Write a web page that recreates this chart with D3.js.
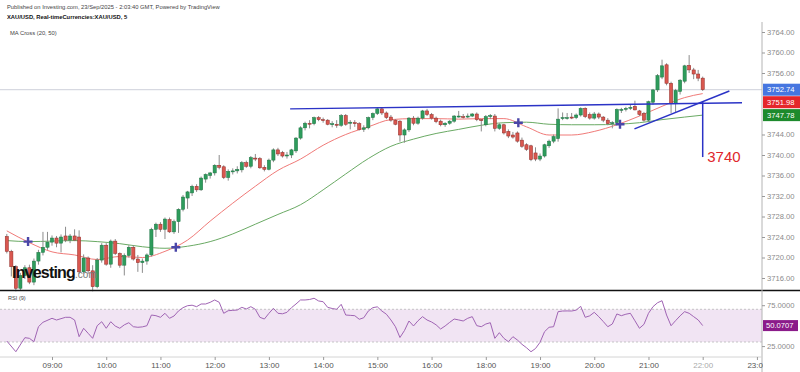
<!DOCTYPE html>
<html>
<head>
<meta charset="utf-8">
<script src="https://cdn.jsdelivr.net/npm/d3@7"></script>
<style>
body { margin: 0; background: #fff; }
svg { display: block; font-family: Arial, "Liberation Sans", sans-serif; }
</style>
</head>
<body>
<svg id="chart" width="800" height="372"></svg>
<script>
// XAU/USD 5 min candles, 08:10 -> 22:00 (17:00-18:00 break skipped), index = candle number
var opens = [3724.1,3721.2,3718.2,3714.0,3716.5,3718.0,3715.2,3719.3,3721.0,3722.0,3723.0,3723.8,3722.8,3724.2,3723.4,3724.2,3724.0,3717.2,3719.9,3717.4,
  3714.3,3719.5,3722.4,3718.7,3723.2,3720.8,3718.5,3720.4,3722.0,3719.7,3719.0,3719.3,3720.5,3725.5,3726.5,3725.5,3727.4,3725.0,3727.0,3729.4,
  3731.6,3732.6,3733.9,3733.2,3735.3,3736.0,3736.5,3738.0,3737.7,3735.6,3736.8,3736.9,3737.1,3738.5,3737.8,3739.4,3739.3,3737.6,3737.2,3739.0,
  3741.0,3740.5,3739.9,3740.0,3740.8,3743.3,3745.3,3746.2,3746.1,3747.3,3746.9,3746.8,3746.0,3746.0,3745.8,3747.7,3746.2,3746.3,3746.1,3745.0,
  3745.3,3747.3,3748.1,3749.0,3748.2,3747.4,3746.8,3746.6,3743.9,3744.9,3747.2,3746.2,3747.2,3748.6,3747.9,3747.2,3746.6,3745.9,3746.2,3746.6,
  3747.6,3747.5,3747.5,3747.6,3748.0,3746.9,3745.9,3747.5,3747.6,3745.2,3745.9,3744.6,3743.9,3744.3,3742.9,3742.0,3741.8,3740.4,3739.2,3739.8,
  3741.8,3742.7,3743.2,3747.2,3747.3,3747.4,3747.3,3747.8,3749.1,3747.9,3747.2,3748.0,3747.4,3746.8,3746.2,3746.3,3748.7,3748.9,3749.1,3749.5,
  3748.6,3748.1,3746.8,3750.3,3752.7,3755.2,3757.6,3754.0,3750.0,3752.4,3754.4,3757.5,3756.6,3755.8,3755.0];
var highs = [3724.6,3721.5,3718.5,3717.0,3718.5,3718.6,3719.8,3721.5,3725.0,3725.0,3724.3,3724.2,3724.5,3726.0,3724.6,3725.5,3725.3,3720.6,3720.2,3718.5,
  3719.9,3722.8,3722.8,3723.5,3723.6,3721.0,3720.8,3722.4,3722.4,3720.5,3719.8,3720.8,3725.8,3726.8,3726.9,3727.8,3727.8,3727.4,3729.6,3732.2,
  3733.0,3734.2,3734.3,3735.8,3736.4,3736.7,3738.2,3740.0,3738.0,3737.2,3737.4,3737.8,3738.8,3738.9,3739.8,3740.2,3739.6,3738.0,3739.3,3741.3,
  3741.4,3740.8,3740.6,3741.2,3743.5,3745.6,3746.5,3746.8,3747.5,3747.6,3747.3,3747.0,3746.6,3746.8,3748.0,3748.0,3746.8,3746.8,3746.4,3745.8,
  3747.5,3748.3,3749.3,3749.3,3748.5,3747.8,3747.0,3746.8,3745.2,3747.4,3747.6,3747.5,3748.8,3749.0,3748.2,3747.5,3746.9,3746.4,3746.8,3747.8,
  3748.6,3748.0,3748.1,3748.2,3748.3,3747.0,3747.8,3748.0,3748.0,3746.2,3746.1,3745.0,3744.5,3744.6,3743.4,3742.3,3742.0,3741.5,3740.3,3742.2,
  3743.0,3744.0,3749.1,3748.3,3748.2,3748.2,3748.1,3749.3,3749.3,3748.3,3748.4,3748.3,3747.6,3747.2,3746.6,3749.1,3749.2,3749.4,3749.8,3750.6,
  3748.8,3748.4,3750.6,3752.9,3755.8,3758.6,3757.9,3754.3,3752.9,3754.8,3757.6,3759.5,3757.0,3756.6,3755.3];
var lows = [3720.8,3716.3,3713.4,3713.6,3715.8,3714.8,3714.6,3718.6,3720.4,3721.5,3722.3,3722.0,3721.0,3723.0,3722.8,3723.2,3716.8,3716.9,3716.8,3713.4,
  3714.0,3719.0,3718.4,3718.0,3720.5,3718.0,3716.5,3720.0,3719.4,3717.2,3717.0,3718.6,3720.2,3724.0,3725.0,3723.6,3724.8,3724.6,3724.8,3729.0,
  3729.5,3732.0,3732.8,3733.0,3734.6,3735.4,3736.0,3737.2,3735.3,3735.0,3736.2,3736.4,3736.6,3737.5,3737.4,3738.8,3737.3,3736.8,3737.0,3738.6,
  3739.8,3739.5,3739.3,3739.4,3740.4,3743.0,3744.8,3745.2,3745.8,3746.6,3746.3,3745.8,3745.4,3745.3,3745.5,3745.7,3745.0,3745.5,3744.8,3744.5,
  3745.0,3746.8,3747.8,3747.8,3747.0,3746.5,3745.8,3742.6,3742.4,3744.5,3745.8,3745.9,3746.9,3747.6,3746.9,3746.2,3745.6,3745.5,3745.9,3746.3,
  3747.3,3747.1,3747.2,3747.4,3746.6,3744.6,3745.6,3747.0,3744.6,3744.9,3744.0,3743.3,3743.2,3742.4,3741.4,3740.8,3738.8,3738.8,3738.8,3739.5,
  3741.4,3742.3,3742.6,3746.8,3746.9,3747.0,3747.0,3747.5,3747.2,3746.9,3746.9,3747.0,3746.4,3745.8,3745.2,3746.0,3748.2,3748.5,3748.8,3748.7,
  3747.6,3746.5,3746.4,3749.8,3752.3,3754.8,3753.6,3748.2,3748.4,3751.8,3754.0,3756.0,3754.8,3754.4,3752.5];
var closes = [3721.2,3718.2,3714.0,3716.5,3718.0,3715.2,3719.3,3721.0,3722.0,3723.0,3723.8,3722.8,3724.0,3723.4,3724.2,3723.4,3717.2,3719.9,3717.4,3714.3,
  3719.5,3722.4,3718.7,3723.2,3720.8,3718.5,3720.4,3722.0,3719.7,3719.0,3719.3,3720.5,3725.5,3726.5,3725.5,3727.5,3725.0,3727.0,3729.4,3731.8,
  3732.8,3733.9,3733.2,3735.5,3736.2,3736.5,3738.0,3737.6,3735.6,3736.8,3736.9,3737.2,3738.5,3737.8,3739.5,3739.3,3737.5,3737.2,3739.0,3741.0,
  3740.2,3739.8,3740.0,3741.0,3743.3,3745.3,3746.2,3746.1,3747.3,3746.9,3746.8,3746.0,3746.1,3745.8,3747.7,3746.0,3746.4,3746.1,3745.0,3745.3,
  3747.3,3748.1,3749.0,3748.2,3747.3,3746.8,3746.0,3743.9,3744.9,3747.2,3746.2,3747.2,3748.6,3747.9,3747.2,3746.5,3745.9,3746.2,3746.6,3747.6,
  3747.6,3747.4,3747.6,3748.0,3746.9,3746.7,3747.5,3747.7,3745.2,3745.9,3744.3,3743.7,3743.5,3742.7,3741.7,3741.1,3739.1,3739.2,3739.8,3742.0,
  3742.7,3743.6,3747.0,3747.3,3747.3,3747.3,3747.8,3749.1,3747.5,3747.2,3748.0,3747.4,3746.8,3746.1,3746.3,3748.9,3748.9,3749.1,3749.3,3748.8,
  3747.9,3746.8,3750.4,3752.7,3755.5,3757.4,3754.0,3750.1,3752.6,3754.6,3757.4,3756.6,3755.8,3755.0,3752.74];

// moving averages, read every 5th candle
var maIdx = [0,5,10,15,20,25,30,35,40,45,50,55,60,65,70,75,80,85,90,95,100,105,110,115,120,125,130,135,140,145,150,154];
var ma20 = [3725.2,3722.9,3721.1,3720.5,3719.6,3720.2,3720.0,3721.2,3723.4,3727.1,3730.6,3733.9,3737.0,3739.2,3741.9,3744.0,3745.5,3746.9,3747.1,3747.1,
  3747.0,3747.1,3747.1,3745.5,3743.9,3743.9,3744.6,3745.9,3747.6,3749.5,3751.2,3751.98];
var ma50 = [3723.3,3723.1,3723.2,3723.3,3723.1,3722.7,3722.1,3721.8,3722.2,3723.1,3724.6,3726.5,3728.4,3730.3,3733.2,3736.3,3739.3,3741.7,3743.1,3744.2,
  3745.0,3745.8,3746.3,3746.4,3746.0,3745.9,3745.9,3746.0,3746.3,3746.9,3747.4,3747.78];
var crossIdx = [4.7, 37.4, 113.2, 135.7];
var crossVal = [3723.1, 3722.0, 3746.3, 3746.0];

// RSI(9)
var rsiIdx = [0,2,4,5,6,7,8,10,11,13,14,15,16,17,18,19,20,21,22,23,24,25,26,27,28,29,30,31,32,33,34,35,36,37,38,39,40,41,42,43,
  44,45,46,47,48,49,50,51,52,53,54,55,56,57,58,59,60,61,62,63,64,65,66,67,68,69,70,71,72,73,74,75,76,77,78,79,80,81,82,83,
  84,85,86,87,88,89,90,91,92,93,94,95,96,97,98,99,100,101,102,103,104,105,106,107,108,109,110,111,112,113,114,115,116,117,118,119,
  120,121,122,123,124,125,126,127,128,129,130,131,132,133,134,135,136,137,138,139,140,141,142,143,144,145,146,147,148,149,150,151,152,153,154];
var rsiVal = [31.2,18.1,35.3,34.5,30.4,48.7,54.1,59.0,56.9,60.2,60.2,56.9,36.5,46.8,40.6,34.5,49.9,54.8,46.8,54.8,49.5,46.8,51.0,53.6,48.7,48.0,48.5,49.9,63.0,62.2,
  60.2,65.1,59.0,61.8,68.0,72.0,74.4,75.0,73.2,76.5,76.5,78.5,81.4,78.6,65.1,68.3,68.7,69.1,72.4,70.4,73.2,70.0,60.2,58.1,65.0,71.2,65.1,64.5,66.3,72.0,
  76.5,81.4,81.4,82.0,83.5,80.2,79.3,72.4,71.0,70.0,76.1,63.0,62.6,62.2,57.8,59.7,67.9,72.0,73.0,67.9,64.0,57.0,48.7,35.5,44.0,55.7,49.6,56.0,61.0,56.9,
  54.5,51.0,45.9,49.6,54.0,58.1,57.0,55.7,59.0,61.0,50.0,48.7,52.0,53.6,34.5,41.4,34.5,30.4,36.5,32.4,27.2,23.0,18.1,22.0,29.6,42.6,48.0,48.7,67.1,67.9,
  68.0,67.9,69.0,73.6,60.2,62.0,66.3,61.0,55.0,48.7,52.0,64.3,62.2,64.0,65.1,56.0,46.8,51.6,65.1,73.2,78.0,80.5,63.0,49.9,56.1,62.0,67.1,65.1,61.0,57.0,50.07];

// axes
var timeIdx = [10,22,34,46,58,70,82,94,106,118,130,142,154,166];
var timeLabels = ["09:00","10:00","11:00","12:00","13:00","14:00","15:00","16:00","18:00","19:00","20:00","21:00","22:00","23:00"];
var priceTicks = [3716,3720,3724,3728,3732,3736,3740,3744,3748,3752,3756,3760,3764];
var rsiTicks = [25, 75];

// drawn annotations: [idx1, price1, idx2, price2]
var userLines = [[62.7,3749.0,162.7,3750.2],[138.9,3745.1,159.9,3752.5],[154,3750.4,154,3739.6]];
var noteText = "3740", noteIdx = 155, notePrice = 3739.6;

var lastPrice = 3752.74;
var lastRsi = 50.0707;

var svg = d3.select("#chart");
var W = 800, axisX = 762;

var x = d3.scaleLinear().domain([10, 154]).range([52, 702.7]);
var y = d3.scaleLinear().domain([3716, 3764]).range([278, 32]);
var yr = d3.scaleLinear().domain([30, 70]).range([342, 309.3]);

svg.append("defs").append("clipPath").attr("id", "plotclip")
  .append("rect").attr("x", 0).attr("y", 0).attr("width", axisX + 1).attr("height", 372);

// header
var hdr = svg.append("g").attr("font-size", 5.8);
hdr.append("text").attr("x", 7).attr("y", 9).attr("fill", "#444")
  .text("Published on Investing.com, 23/Sep/2025 - 2:03:40 GMT, Powered by TradingView");
hdr.append("text").attr("x", 7).attr("y", 19).attr("fill", "#111").attr("font-weight", "bold")
  .text("XAU/USD, Real-timeCurrencies:XAU/USD, 5");
hdr.append("text").attr("x", 10).attr("y", 35).attr("fill", "#444").text("MA Cross (20, 50)");

// last price line
svg.append("line").attr("x1", 0).attr("x2", axisX).attr("y1", y(lastPrice)).attr("y2", y(lastPrice))
  .attr("stroke", "#cdd0da").attr("stroke-width", 1);

// moving averages
var maLine = function (vals) {
  return d3.line().x(function (d, i) { return x(maIdx[i]); }).y(function (d) { return y(d); })
    .curve(d3.curveMonotoneX)(vals);
};
svg.append("path").attr("d", maLine(ma50)).attr("fill", "none").attr("stroke", "#6aaa64").attr("stroke-width", 1);
svg.append("path").attr("d", maLine(ma20)).attr("fill", "none").attr("stroke", "#f07a78").attr("stroke-width", 1);

// candles
var cg = svg.append("g");
closes.forEach(function (c, i) {
  var o = opens[i], up = c >= o;
  var cx = x(i);
  cg.append("line").attr("x1", cx).attr("x2", cx).attr("y1", y(highs[i])).attr("y2", y(lows[i]))
    .attr("stroke", "#8c8c8c").attr("stroke-width", 1);
  var top = y(Math.max(o, c)), bot = y(Math.min(o, c));
  cg.append("rect").attr("x", cx - 1.6).attr("width", 3.2)
    .attr("y", top).attr("height", Math.max(1, bot - top))
    .attr("fill", up ? "#2e9c5c" : "#d9574f")
    .attr("stroke", up ? "#1f7444" : "#8e2d28").attr("stroke-width", 0.5);
});

// MA crosses
crossIdx.forEach(function (ci, k) {
  var cx = x(ci), cy = y(crossVal[k]);
  svg.append("path").attr("d", "M" + (cx - 4.5) + "," + cy + "H" + (cx + 4.5) + "M" + cx + "," + (cy - 4.5) + "V" + (cy + 4.5))
    .attr("stroke", "#4a46a8").attr("stroke-width", 2.4);
});

// user drawn lines
userLines.forEach(function (l) {
  svg.append("line").attr("x1", x(l[0])).attr("y1", y(l[1])).attr("x2", x(l[2])).attr("y2", y(l[3]))
    .attr("stroke", "#2b33c6").attr("stroke-width", 1.5);
});
svg.append("text").attr("x", x(noteIdx)).attr("y", y(notePrice) + 5).attr("font-size", 15)
  .attr("fill", "#e0262c").text(noteText);

// watermark
var wm = svg.append("text").attr("x", 12).attr("y", 278);
wm.append("tspan").attr("font-size", 16).attr("font-weight", 900).attr("letter-spacing", -0.8)
  .attr("fill", "#111").text("Investing");
wm.append("tspan").attr("font-size", 10).attr("fill", "#777").text(".com");

// pane separator
svg.append("line").attr("x1", 0).attr("x2", W).attr("y1", 290.5).attr("y2", 290.5)
  .attr("stroke", "#111").attr("stroke-width", 1.6);

// RSI pane
svg.append("text").attr("x", 8).attr("y", 300).attr("font-size", 5.6).attr("fill", "#444").text("RSI (9)");
svg.append("rect").attr("x", 0).attr("width", axisX).attr("y", yr(70)).attr("height", yr(30) - yr(70))
  .attr("fill", "#f1e4f3");
[70, 30].forEach(function (v) {
  svg.append("line").attr("x1", 0).attr("x2", axisX).attr("y1", yr(v)).attr("y2", yr(v))
    .attr("stroke", "#b9b9b9").attr("stroke-width", 0.8).attr("stroke-dasharray", "2,2");
});
svg.append("path")
  .attr("d", d3.line().x(function (d, i) { return x(rsiIdx[i]); }).y(function (d) { return yr(d); })(rsiVal))
  .attr("fill", "none").attr("stroke", "#a064b4").attr("stroke-width", 1);

// last value boxes (stacked so they do not overlap)
var boxes = [
  { v: lastPrice, fill: "#4676e0" },
  { v: ma20[ma20.length - 1], fill: "#e5262b" },
  { v: ma50[ma50.length - 1], fill: "#1d8a2c" }
];
var prevBottom = -1e9;
boxes.forEach(function (b) {
  b.cy = Math.max(y(b.v), prevBottom + 6.5);
  prevBottom = b.cy + 6;
});

// price axis, hiding tick labels that sit under the value boxes
svg.append("line").attr("x1", axisX).attr("x2", axisX).attr("y1", 22).attr("y2", 372)
  .attr("stroke", "#b4b4b4").attr("stroke-width", 1);
var shownTicks = priceTicks.filter(function (t) {
  return boxes.every(function (b) { return Math.abs(y(t) - b.cy) > 10; });
});
var ya = svg.append("g").attr("transform", "translate(" + axisX + ",0)")
  .call(d3.axisRight(y).tickValues(shownTicks).tickFormat(d3.format(".2f")).tickSize(3).tickPadding(2));
ya.select(".domain").remove();
ya.selectAll("line").attr("stroke", "#999");
ya.selectAll("text").attr("fill", "#8a8a8a").attr("font-size", 7.6).attr("font-family", null);

var ra = svg.append("g").attr("transform", "translate(" + axisX + ",0)")
  .call(d3.axisRight(d3.scaleLinear().domain([30, 70]).range([yr(30), yr(70)])).tickValues(rsiTicks)
    .tickFormat(d3.format(".4f")).tickSize(3).tickPadding(2));
ra.select(".domain").remove();
ra.selectAll("line").attr("stroke", "#999");
ra.selectAll("text").attr("fill", "#8a8a8a").attr("font-size", 7.6).attr("font-family", null);

boxes.forEach(function (b) {
  svg.append("rect").attr("x", axisX + 1).attr("y", b.cy - 6).attr("width", 37).attr("height", 12).attr("fill", b.fill);
  svg.append("text").attr("x", axisX + 5).attr("y", b.cy + 2.7).attr("font-size", 7.6).attr("fill", "#fff")
    .text(d3.format(".2f")(b.v));
});
svg.append("rect").attr("x", axisX + 1).attr("y", yr(lastRsi) - 5.5).attr("width", 35).attr("height", 11).attr("fill", "#8b1b8a");
svg.append("text").attr("x", axisX + 4).attr("y", yr(lastRsi) + 2.7).attr("font-size", 7.6).attr("fill", "#fff")
  .text(d3.format(".4f")(lastRsi));

// time axis
svg.append("line").attr("x1", 0).attr("x2", axisX).attr("y1", 357).attr("y2", 357).attr("stroke", "#d4d4d4");
var xa = svg.append("g").attr("transform", "translate(0,357)").attr("clip-path", "url(#plotclip)")
  .call(d3.axisBottom(x).tickValues(timeIdx).tickFormat(function (d, i) { return timeLabels[i]; })
    .tickSize(3).tickPadding(2));
xa.select(".domain").remove();
xa.selectAll("line").attr("stroke", "#999");
xa.selectAll("text").attr("font-size", 8).attr("font-family", null)
  .attr("fill", function (d) { return d === 154 ? "#aaa" : "#555"; });
</script>
</body>
</html>
